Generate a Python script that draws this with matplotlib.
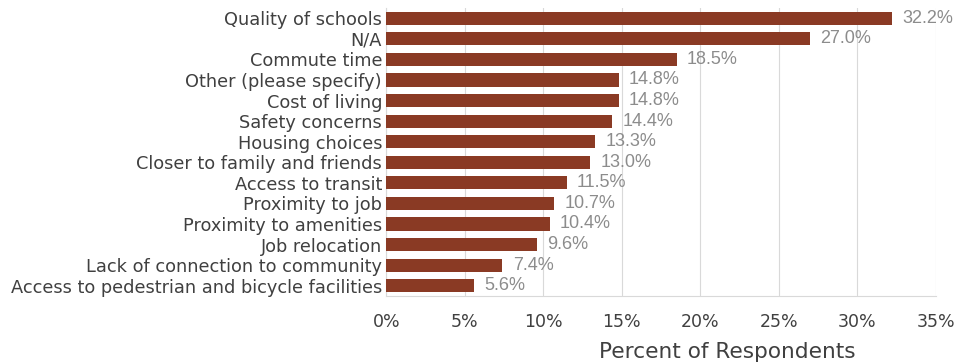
import matplotlib.pyplot as plt

categories = ["Quality of schools", "N/A", "Commute time", "Other (please specify)",
              "Cost of living", "Safety concerns", "Housing choices",
              "Closer to family and friends", "Access to transit", "Proximity to job",
              "Proximity to amenities", "Job relocation",
              "Lack of connection to community",
              "Access to pedestrian and bicycle facilities"]
values = [32.2, 27.0, 18.5, 14.8, 14.8, 14.4, 13.3, 13.0, 11.5, 10.7, 10.4, 9.6, 7.4, 5.6]
xticks = [0, 5, 10, 15, 20, 25, 30, 35]

fig = plt.figure(figsize=(9.56, 3.64), dpi=100)
ax = fig.add_axes([0.404, 0.187, 0.575, 0.791])

y = list(range(len(categories)))
ax.barh(y, values, height=0.64, color="#8a3a24", zorder=3)
for yi, v in zip(y, values):
    ax.text(v + 0.65, yi, f"{v:.1f}%", va="center", ha="left",
            fontsize=13, color="#8c8c8c", family="Liberation Sans")

ax.set_ylim(13.5, -0.5)
ax.set_xlim(0, 35)
ax.set_yticks(y)
ax.set_yticklabels(categories, fontsize=12.8, color="#404040", family="DejaVu Sans")
ax.set_xticks(xticks)
ax.set_xticklabels([f"{t}%" for t in xticks], fontsize=12.5, color="#404040",
                   family="DejaVu Sans")
ax.tick_params(length=0, pad=3)
ax.tick_params(axis="x", pad=12)
ax.grid(axis="x", color="#d9d9d9", linewidth=0.8, zorder=0)
for s in ["top", "right"]:
    ax.spines[s].set_visible(False)
ax.spines["left"].set_color("#d9d9d9")
ax.spines["bottom"].set_color("#d9d9d9")

fig.text(0.761, 0.033, "Percent of Respondents", ha="center", va="center",
         fontsize=15.6, color="#404040", family="DejaVu Sans")

fig.savefig("out.png", dpi=100)
